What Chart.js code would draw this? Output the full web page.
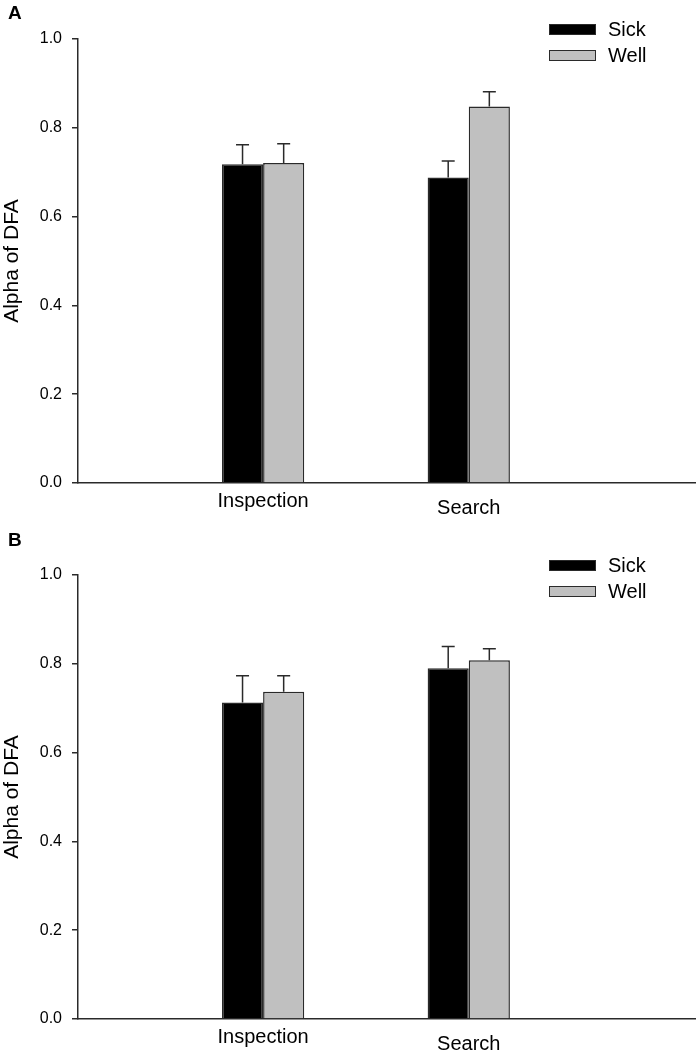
<!DOCTYPE html>
<html>
<head>
<meta charset="utf-8">
<script src="https://cdn.jsdelivr.net/npm/chart.js@4.4.1/dist/chart.umd.min.js"></script>
<style>
    html, body { margin: 0; padding: 0; background: #fff; overflow: hidden; }
    body { width: 699px; height: 1053px; position: relative; font-family: 'Liberation Sans', Arial, sans-serif; }
    .panel { position: absolute; left: 0; width: 699px; }
    .panel canvas { position: absolute; left: 0; top: 0; }
    .tag { position: absolute; left: 8px; font-weight: bold; font-size: 19px; line-height: 19px; color: #000; }
    .legend { position: absolute; left: 549px; top: 16px; }
    .legend .row { height: 26px; display: flex; align-items: center; }
    .legend .box { width: 45px; height: 9px; border: 1.5px solid #2a2a2a; margin-right: 12px; }
    .legend .txt { font-size: 20px; color: #000; }
</style>
</head>
<body>

<div class="panel" id="panelA" style="top:0; height:536px;">
    <canvas id="chartA" width="699" height="536"></canvas>
    <div class="tag" style="top:3px;">A</div>
    <div class="legend" id="legendA"></div>
</div>

<div class="panel" id="panelB" style="top:536px; height:517px;">
    <canvas id="chartB" width="699" height="517"></canvas>
    <div class="tag" style="top:-6px;">B</div>
    <div class="legend" id="legendB"></div>
</div>

<script>
const categories = ['Inspection', 'Search'];
const seriesNames = ['Sick', 'Well'];
const seriesColors = ['#000000', '#c0c0c0'];
const yTicks = [0.0, 0.2, 0.4, 0.6, 0.8, 1.0];

// panel A
const sickA = [0.718, 0.688];
const sickErrA = [0.044, 0.037];
const wellA = [0.721, 0.848];
const wellErrA = [0.043, 0.033];

// panel B
const sickB = [0.713, 0.790];
const sickErrB = [0.060, 0.049];
const wellB = [0.737, 0.808];
const wellErrB = [0.036, 0.026];

Chart.defaults.font.family = "'Liberation Sans', Arial, sans-serif";
Chart.defaults.color = '#000';

const axisColor = '#2a2a2a';

// only the upper half of the error bar, with a cap
const errorBars = {
    id: 'errorBars',
    afterDatasetsDraw: (chart) => {
        const ctx = chart.ctx;
        const y = chart.scales.y;
        ctx.save();
        ctx.strokeStyle = axisColor;
        ctx.lineWidth = 1.5;
        chart.data.datasets.forEach((ds, di) => {
            const meta = chart.getDatasetMeta(di);
            meta.data.forEach((bar, i) => {
                const top = y.getPixelForValue(ds.data[i].y + ds.errors[i]);
                ctx.beginPath();
                ctx.moveTo(bar.x, bar.y);
                ctx.lineTo(bar.x, top);
                ctx.moveTo(bar.x - 6.5, top);
                ctx.lineTo(bar.x + 6.5, top);
                ctx.stroke();
            });
        });
        ctx.restore();
    }
};

function toPoints(values) {
    return values.map((v, i) => ({ x: i + 1, y: v }));
}

function makeChart(id, sick, sickErr, well, wellErr, height) {
    const data = {
        datasets: [{
            label: seriesNames[0],
            data: toPoints(sick),
            errors: sickErr,
            backgroundColor: seriesColors[0],
            borderColor: axisColor,
            borderWidth: 1.5,
            categoryPercentage: 0.4,
            barPercentage: 1.0
        }, {
            label: seriesNames[1],
            data: toPoints(well),
            errors: wellErr,
            backgroundColor: seriesColors[1],
            borderColor: axisColor,
            borderWidth: 1.5,
            categoryPercentage: 0.4,
            barPercentage: 1.0
        }]
    };

    return new Chart(document.getElementById(id), {
        type: 'bar',
        data: data,
        plugins: [errorBars],
        options: {
            responsive: false,
            animation: false,
            layout: { padding: { top: 39, right: 4, left: 0, bottom: 0 } },
            plugins: {
                legend: { display: false },
                tooltip: { enabled: false }
            },
            scales: {
                x: {
                    type: 'linear',
                    offset: false,
                    min: 0.1,
                    max: 3.1,
                    afterBuildTicks: (scale) => {
                        scale.ticks = categories.map((c, i) => ({ value: i + 1 }));
                    },
                    afterFit: (scale) => { scale.height = height - 483; },
                    grid: { display: false, drawTicks: false, tickLength: 0, offset: false },
                    border: { display: true, color: axisColor, width: 1.5 },
                    ticks: {
                        autoSkip: false,
                        maxRotation: 0,
                        padding: 6,
                        color: '#000',
                        font: (ctx) => ({ size: 20, lineHeight: ctx.index === 1 ? 1.9 : 1.2 }),
                        callback: (v) => categories[v - 1]
                    }
                },
                y: {
                    min: 0,
                    max: 1,
                    afterBuildTicks: (scale) => {
                        scale.ticks = yTicks.map((v) => ({ value: v }));
                    },
                    afterFit: (scale) => { scale.width = 78; },
                    grid: { drawOnChartArea: false, drawTicks: true, tickLength: 6, color: axisColor, lineWidth: 1.5 },
                    border: { display: true, color: axisColor, width: 1.5 },
                    ticks: {
                        padding: 10,
                        color: '#000',
                        font: { size: 16 },
                        callback: (v) => v.toFixed(1)
                    },
                    title: {
                        display: true,
                        text: 'Alpha of DFA',
                        color: '#000',
                        font: { size: 21 },
                        padding: 0
                    }
                }
            }
        }
    });
}

function makeLegend(id, chart) {
    const box = document.getElementById(id);
    chart.data.datasets.forEach((ds) => {
        const row = document.createElement('div');
        row.className = 'row';
        const sw = document.createElement('div');
        sw.className = 'box';
        sw.style.background = ds.backgroundColor;
        const t = document.createElement('span');
        t.className = 'txt';
        t.textContent = ds.label;
        row.appendChild(sw);
        row.appendChild(t);
        box.appendChild(row);
    });
}

const chartA = makeChart('chartA', sickA, sickErrA, wellA, wellErrA, 536);
const chartB = makeChart('chartB', sickB, sickErrB, wellB, wellErrB, 517);
makeLegend('legendA', chartA);
makeLegend('legendB', chartB);
</script>
</body>
</html>
